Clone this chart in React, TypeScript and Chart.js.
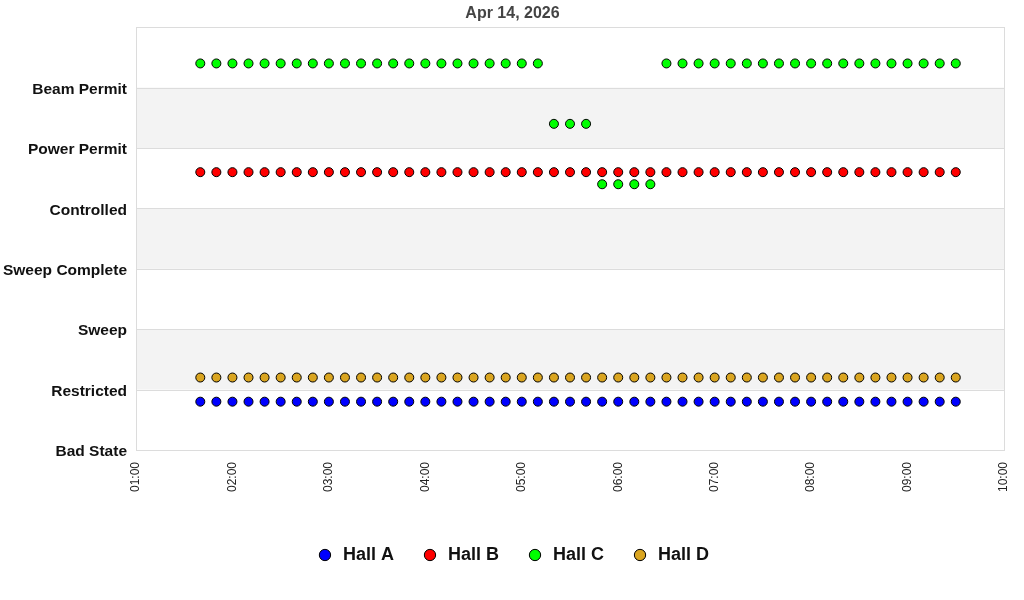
import React, { useEffect, useRef } from "react";
import { Chart, registerables, Plugin } from "chart.js";

Chart.register(...registerables);

// state names, bottom to top (index = y value)
const stateLabels = [
  "Bad State",
  "Restricted",
  "Sweep",
  "Sweep Complete",
  "Controlled",
  "Power Permit",
  "Beam Permit",
];

const sampleTimes = [
  "01:40", "01:50", "02:00", "02:10", "02:20", "02:30", "02:40", "02:50",
  "03:00", "03:10", "03:20", "03:30", "03:40", "03:50", "04:00", "04:10",
  "04:20", "04:30", "04:40", "04:50", "05:00", "05:10", "05:20", "05:30",
  "05:40", "05:50", "06:00", "06:10", "06:20", "06:30", "06:40", "06:50",
  "07:00", "07:10", "07:20", "07:30", "07:40", "07:50", "08:00", "08:10",
  "08:20", "08:30", "08:40", "08:50", "09:00", "09:10", "09:20", "09:30",
];

const hallAStates = [
  "Restricted", "Restricted", "Restricted", "Restricted", "Restricted", "Restricted", "Restricted", "Restricted",
  "Restricted", "Restricted", "Restricted", "Restricted", "Restricted", "Restricted", "Restricted", "Restricted",
  "Restricted", "Restricted", "Restricted", "Restricted", "Restricted", "Restricted", "Restricted", "Restricted",
  "Restricted", "Restricted", "Restricted", "Restricted", "Restricted", "Restricted", "Restricted", "Restricted",
  "Restricted", "Restricted", "Restricted", "Restricted", "Restricted", "Restricted", "Restricted", "Restricted",
  "Restricted", "Restricted", "Restricted", "Restricted", "Restricted", "Restricted", "Restricted", "Restricted",
];

const hallBStates = [
  "Power Permit", "Power Permit", "Power Permit", "Power Permit", "Power Permit", "Power Permit", "Power Permit", "Power Permit",
  "Power Permit", "Power Permit", "Power Permit", "Power Permit", "Power Permit", "Power Permit", "Power Permit", "Power Permit",
  "Power Permit", "Power Permit", "Power Permit", "Power Permit", "Power Permit", "Power Permit", "Power Permit", "Power Permit",
  "Power Permit", "Power Permit", "Power Permit", "Power Permit", "Power Permit", "Power Permit", "Power Permit", "Power Permit",
  "Power Permit", "Power Permit", "Power Permit", "Power Permit", "Power Permit", "Power Permit", "Power Permit", "Power Permit",
  "Power Permit", "Power Permit", "Power Permit", "Power Permit", "Power Permit", "Power Permit", "Power Permit", "Power Permit",
];

const hallCStates = [
  "Beam Permit", "Beam Permit", "Beam Permit", "Beam Permit", "Beam Permit", "Beam Permit", "Beam Permit", "Beam Permit",
  "Beam Permit", "Beam Permit", "Beam Permit", "Beam Permit", "Beam Permit", "Beam Permit", "Beam Permit", "Beam Permit",
  "Beam Permit", "Beam Permit", "Beam Permit", "Beam Permit", "Beam Permit", "Beam Permit", "Power Permit", "Power Permit",
  "Power Permit", "Controlled", "Controlled", "Controlled", "Controlled", "Beam Permit", "Beam Permit", "Beam Permit",
  "Beam Permit", "Beam Permit", "Beam Permit", "Beam Permit", "Beam Permit", "Beam Permit", "Beam Permit", "Beam Permit",
  "Beam Permit", "Beam Permit", "Beam Permit", "Beam Permit", "Beam Permit", "Beam Permit", "Beam Permit", "Beam Permit",
];

const hallDStates = [
  "Restricted", "Restricted", "Restricted", "Restricted", "Restricted", "Restricted", "Restricted", "Restricted",
  "Restricted", "Restricted", "Restricted", "Restricted", "Restricted", "Restricted", "Restricted", "Restricted",
  "Restricted", "Restricted", "Restricted", "Restricted", "Restricted", "Restricted", "Restricted", "Restricted",
  "Restricted", "Restricted", "Restricted", "Restricted", "Restricted", "Restricted", "Restricted", "Restricted",
  "Restricted", "Restricted", "Restricted", "Restricted", "Restricted", "Restricted", "Restricted", "Restricted",
  "Restricted", "Restricted", "Restricted", "Restricted", "Restricted", "Restricted", "Restricted", "Restricted",
];

const hallNames = ["Hall A", "Hall B", "Hall C", "Hall D"];
const hallColors = ["#0000ff", "#ff0000", "#00ff00", "#daa520"];
// vertical offset of each hall inside a state band
const hallOffsets = [-0.2, -0.4, 0.4, 0.2];
const hallStates = [hallAStates, hallBStates, hallCStates, hallDStates];

const FONT = "'Liberation Sans', Arial, sans-serif";

const toHours = (t: string) => {
  const [h, m] = t.split(":").map(Number);
  return h + m / 60;
};

const pad2 = (n: number) => (n < 10 ? "0" + n : "" + n);

// alternating band background + frame
const bandsPlugin: Plugin<"scatter"> = {
  id: "bands",
  beforeDatasetsDraw(chart) {
    const { ctx, chartArea, scales } = chart;
    const y = scales.y;
    ctx.save();
    ctx.fillStyle = "#f3f3f3";
    for (let v = 1; v < stateLabels.length; v += 2) {
      const top = y.getPixelForValue(v + 1);
      const bottom = y.getPixelForValue(v);
      ctx.fillRect(chartArea.left, top, chartArea.right - chartArea.left, bottom - top);
    }
    ctx.strokeStyle = "#dcdcdc";
    ctx.lineWidth = 1;
    for (let v = 1; v < stateLabels.length + 1; v++) {
      const py = Math.round(y.getPixelForValue(v)) + 0.5;
      ctx.beginPath();
      ctx.moveTo(chartArea.left, py);
      ctx.lineTo(chartArea.right, py);
      ctx.stroke();
    }
    ctx.strokeRect(
      Math.round(chartArea.left) + 0.5,
      Math.round(chartArea.top) + 0.5,
      Math.round(chartArea.right - chartArea.left),
      Math.round(chartArea.bottom - chartArea.top)
    );
    ctx.restore();
  },
};

const StateChart: React.FC = () => {
  const chartRef = useRef<HTMLCanvasElement>(null);

  useEffect(() => {
    document.body.style.margin = "0";
    if (!chartRef.current) return;
    const ctx = chartRef.current.getContext("2d");
    if (!ctx) return;

    const datasets = hallNames.map((name, i) => ({
      label: name,
      data: sampleTimes.map((t, j) => ({
        x: toHours(t),
        y: stateLabels.indexOf(hallStates[i][j]) + hallOffsets[i],
      })),
      backgroundColor: hallColors[i],
      borderColor: "#000000",
      borderWidth: 1,
      pointRadius: 4.5,
      pointHoverRadius: 4.5,
      showLine: false,
    }));

    const chart = new Chart(ctx, {
      type: "scatter",
      data: { datasets },
      plugins: [bandsPlugin],
      options: {
        responsive: false,
        animation: false,
        layout: { padding: { left: 1, right: 0, top: 0, bottom: 26 } },
        plugins: {
          title: {
            display: true,
            text: "Apr 14, 2026",
            color: "#444444",
            font: { family: FONT, size: 16, weight: "bold" },
            padding: { top: 4, bottom: 4 },
          },
          legend: {
            position: "bottom",
            labels: {
              usePointStyle: true,
              pointStyle: "circle",
              boxWidth: 18,
              boxHeight: 8,
              padding: 27,
              color: "#111111",
              font: { family: FONT, size: 18, weight: "bold" },
            },
          },
          tooltip: { enabled: false },
        },
        scales: {
          x: {
            type: "linear",
            min: 1,
            max: 10,
            afterFit: (scale: any) => {
              scale.height = 69;
            },
            ticks: {
              stepSize: 1,
              minRotation: 90,
              maxRotation: 90,
              color: "#222222",
              padding: 4,
              font: { family: FONT, size: 12 },
              callback: (v: any) => pad2(Number(v)) + ":00",
            },
            grid: { display: false },
            border: { display: false },
          },
          y: {
            type: "linear",
            min: 0,
            max: 7,
            afterFit: (scale: any) => {
              scale.width = 135;
            },
            ticks: {
              stepSize: 1,
              color: "#111111",
              padding: 9,
              labelOffset: 2,
              font: { family: FONT, size: 15.5, weight: "bold" },
              callback: (v: any) => stateLabels[Number(v)] ?? "",
            },
            grid: { display: false, drawTicks: false },
            border: { display: false },
          },
          // empty right axis, only keeps a margin on the right
          yRight: {
            type: "linear",
            position: "right",
            min: 0,
            max: 7,
            afterFit: (scale: any) => {
              scale.width = 20;
            },
            ticks: { display: false },
            grid: { display: false },
            border: { display: false },
          },
        },
      },
    });

    return () => {
      chart.destroy();
    };
  }, []);

  return <canvas ref={chartRef} width={1024} height={600} />;
};

export default function App() {
  return <StateChart />;
}
